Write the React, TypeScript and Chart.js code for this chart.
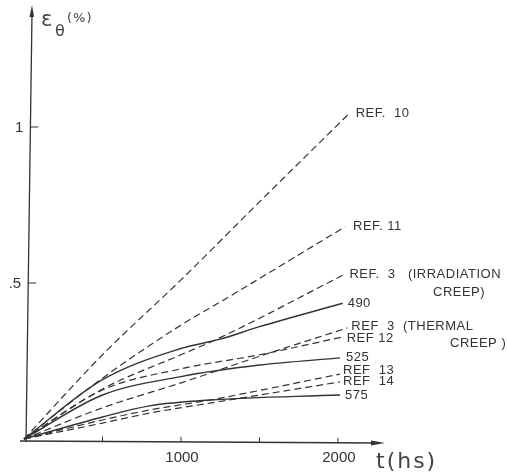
import React, { useEffect, useRef } from "react";
import { Chart, registerables } from "chart.js";

Chart.register(...registerables);

// time (hs) and strain (%)
const tRef10 = [0, 500, 1000, 1500, 2075];
const vRef10 = [0, 0.27, 0.51, 0.76, 1.045];
const tRef11 = [0, 500, 1000, 1270, 2045];
const vRef11 = [0, 0.195, 0.365, 0.445, 0.68];
const tRef3Irr = [0, 500, 1000, 1250, 2035];
const vRef3Irr = [0, 0.16, 0.27, 0.325, 0.526];
const t490 = [0, 500, 1000, 1250, 1500, 2030];
const v490 = [0, 0.19, 0.29, 0.32, 0.36, 0.435];
const tRef3Th = [0, 500, 1000, 1500, 2060];
const vRef3Th = [0, 0.1, 0.18, 0.265, 0.356];
const tRef12 = [0, 500, 1000, 1500, 2030];
const vRef12 = [0, 0.157, 0.225, 0.27, 0.327];
const t525 = [0, 500, 1000, 1500, 2013];
const v525 = [0, 0.141, 0.2, 0.237, 0.26];
const tRef13 = [0, 500, 800, 1185, 2013];
const vRef13 = [0, 0.061, 0.093, 0.125, 0.208];
const tRef14 = [0, 500, 800, 1185, 2013];
const vRef14 = [0, 0.051, 0.083, 0.115, 0.183];
const t575 = [0, 500, 800, 1185, 2013];
const v575 = [0, 0.0705, 0.106, 0.125, 0.141];

const xTicks = [500, 1000, 1500, 2000];
const xTickLabels = ["", "1000", "", "2000"];
const yTicks = [0.5, 1];
const yTickLabels = [".5", "1"];

const INK = "#333";

type S = { t: number[]; v: number[]; dashed: boolean; label: string[] };
const series: S[] = [
  { t: tRef10, v: vRef10, dashed: true, label: ["REF.  10"] },
  { t: tRef11, v: vRef11, dashed: true, label: ["REF. 11"] },
  { t: tRef3Irr, v: vRef3Irr, dashed: true, label: ["REF.  3   (IRRADIATION", "CREEP)"] },
  { t: t490, v: v490, dashed: false, label: ["490"] },
  { t: tRef3Th, v: vRef3Th, dashed: true, label: ["REF  3  (THERMAL", "CREEP )"] },
  { t: tRef12, v: vRef12, dashed: true, label: ["REF 12"] },
  { t: t525, v: v525, dashed: false, label: ["525"] },
  { t: tRef13, v: vRef13, dashed: true, label: ["REF  13"] },
  { t: tRef14, v: vRef14, dashed: true, label: ["REF  14"] },
  { t: t575, v: v575, dashed: false, label: ["575"] },
];

// label offsets (px) relative to the end of each curve; second-line placement
const labelDx = [6, 8, 6, 5, 4, 4, 6, 3, 3, 5];
const labelDy = [0, 0, 0, 0, -2, 1, 0, -4, 0, 0];
const secondLine: Record<number, [number, number]> = { 2: [433, 292], 4: [450, 343] };

const overlay = {
  id: "overlay",
  afterDraw(chart: any) {
    const ctx = chart.ctx as CanvasRenderingContext2D;
    const xs = chart.scales.x;
    const ys = chart.scales.y;
    const x0 = xs.getPixelForValue(0);
    const y0 = ys.getPixelForValue(0);
    ctx.save();
    ctx.strokeStyle = INK;
    ctx.fillStyle = INK;
    ctx.lineWidth = 1.3;
    // y axis (slightly leaning, as drawn)
    const yb = { x: x0 + 2, y: y0 + 3 };
    const yt = { x: x0 + 8, y: 8 };
    const axisX = (py: number) => yb.x + ((yb.y - py) / (yb.y - yt.y)) * (yt.x - yb.x);
    ctx.beginPath();
    ctx.moveTo(yb.x, yb.y);
    ctx.lineTo(yt.x, yt.y + 6);
    ctx.stroke();
    ctx.beginPath();
    ctx.moveTo(yt.x, yt.y - 3);
    ctx.lineTo(yt.x - 2.5, yt.y + 9);
    ctx.lineTo(yt.x + 2, yt.y + 9);
    ctx.closePath();
    ctx.fill();
    // x axis
    const xr = xs.right;
    ctx.beginPath();
    ctx.moveTo(x0 - 4, y0 + 2);
    ctx.lineTo(xr - 4, y0 + 4);
    ctx.stroke();
    ctx.beginPath();
    ctx.moveTo(xr + 2, y0 + 4);
    ctx.lineTo(xr - 12, y0 + 1.5);
    ctx.lineTo(xr - 12, y0 + 6.5);
    ctx.closePath();
    ctx.fill();
    // x ticks
    ctx.lineWidth = 1;
    ctx.font = "15px 'Liberation Sans', Arial, sans-serif";
    ctx.textAlign = "center";
    ctx.textBaseline = "middle";
    xTicks.forEach((tv, i) => {
      const px = xs.getPixelForValue(tv);
      const py = y0 + 2 + (px - x0) / 180;
      ctx.beginPath();
      ctx.moveTo(px, py);
      ctx.lineTo(px, py - 5);
      ctx.stroke();
      if (xTickLabels[i]) ctx.fillText(xTickLabels[i], px + 1, y0 + 19);
    });
    // y ticks
    ctx.textAlign = "right";
    yTicks.forEach((yv, i) => {
      const py = ys.getPixelForValue(yv);
      const ax = axisX(py);
      ctx.beginPath();
      ctx.moveTo(ax, py);
      ctx.lineTo(ax + 8, py);
      ctx.stroke();
      ctx.fillText(yTickLabels[i], ax - 7, py + 1);
    });
    // axis titles
    ctx.fillStyle = "#444";
    ctx.textAlign = "left";
    ctx.textBaseline = "alphabetic";
    ctx.font = "22px 'DejaVu Sans', sans-serif";
    (ctx as any).letterSpacing = "2px";
    ctx.fillText("t(hs)", 376, 468);
    (ctx as any).letterSpacing = "0px";
    ctx.font = "21px 'DejaVu Sans', sans-serif";
    ctx.fillText("ε", 41, 26);
    ctx.font = "16px 'DejaVu Sans', sans-serif";
    ctx.fillText("θ", 55, 36);
    ctx.font = "13px 'DejaVu Sans', sans-serif";
    (ctx as any).letterSpacing = "1px";
    ctx.fillText("(%)", 67, 22);
    // curve labels
    ctx.fillStyle = "#333";
    ctx.font = "13px 'Liberation Sans', Arial, sans-serif";
    ctx.textBaseline = "middle";
    (ctx as any).letterSpacing = "0.5px";
    series.forEach((s, i) => {
      const n = s.t.length - 1;
      const px = xs.getPixelForValue(s.t[n]);
      const py = ys.getPixelForValue(s.v[n]);
      ctx.fillText(s.label[0], px + labelDx[i], py + labelDy[i]);
      if (s.label[1] && secondLine[i]) {
        ctx.fillText(s.label[1], secondLine[i][0], secondLine[i][1]);
      }
    });
    ctx.restore();
  },
};

export default function App() {
  const ref = useRef<HTMLCanvasElement>(null);
  useEffect(() => {
    if (!ref.current) return;
    const chart = new Chart(ref.current, {
      type: "line",
      data: {
        datasets: series.map((s) => ({
          data: s.t.map((t, i) => ({ x: t, y: s.v[i] })),
          borderColor: INK,
          borderWidth: s.dashed ? 1.2 : 1.4,
          borderDash: s.dashed ? [7, 4] : [],
          pointRadius: 0,
          fill: false,
          cubicInterpolationMode: "monotone" as const,
          clip: false as any,
        })),
      },
      options: {
        animation: false,
        responsive: false,
        layout: { padding: { left: 24, right: 125, top: 10, bottom: 33 } },
        plugins: { legend: { display: false }, tooltip: { enabled: false } },
        scales: {
          x: { type: "linear", min: 0, max: 2287, display: false },
          y: { type: "linear", min: 0, max: 1.375, display: false },
        },
      },
      plugins: [overlay],
    });
    return () => chart.destroy();
  }, []);
  return (
    <div style={{ position: "absolute", left: 0, top: 0, width: 508, height: 472, background: "#fff" }}>
      <canvas ref={ref} width={508} height={472} />
    </div>
  );
}
